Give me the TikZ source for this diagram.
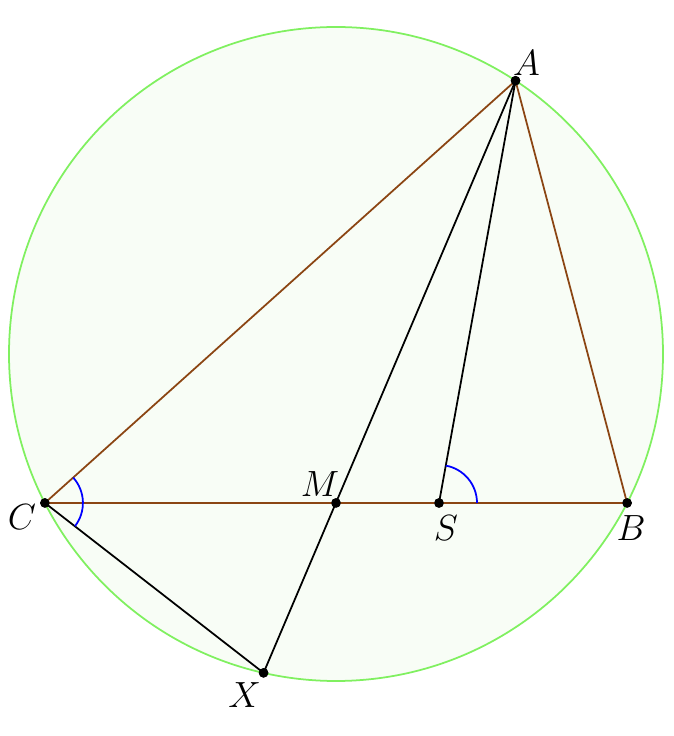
\documentclass[tikz,border=0pt]{standalone}
\usepackage{amsmath}
\usepackage{tikz}
\usetikzlibrary{calc}
\usetikzlibrary{positioning}
\definecolor{sidecol}{RGB}{139,69,19}
\definecolor{circcol}{RGB}{128,240,96}
\definecolor{discfill}{RGB}{248,253,246}
\tikzstyle{point} = [
	circle,
	fill = black,
	inner sep = 0pt,
	minimum size = 0.19cm
]
\tikzstyle{side} = [draw = sidecol, line width = 1pt]
\tikzstyle{cev} = [draw = black, line width = 1pt]
\tikzstyle{ang} = [draw = blue, line width = 1pt]
\tikzstyle{lbl} = [font = \huge, inner sep = 0pt]

\begin{document}
\begin{tikzpicture}
	\useasboundingbox (0,0) rectangle (13.48,14.72);
	\coordinate (O) at (6.72,7.64);
	\draw[circcol, fill = discfill, line width = 1pt] (O) circle (6.54);
	
	\node [point] (A) at ($(O)+(56.7:6.54)$) {};
	\node [point] (B) at ($(O)+(-27.1:6.54)$) {};
	\node [point] (C) at ($(O)+(207.1:6.54)$) {};
	\node [point] (M) at ($(B)!0.5!(C)$) {};
	\node [point] (S) at (8.78,4.66) {};
	\node [point] (X) at ($(O)+(257.2:6.54)$) {};
	
	\path[side] (A.center) -- (B.center) -- (C.center) -- cycle;
	\path[cev] (A.center) -- (X.center);
	\path[cev] (A.center) -- (S.center);
	\path[cev] (C.center) -- (X.center);
	
	% angle marks
	\draw[ang] ($(C)+(-37.7:0.76)$) arc (-37.7:41.9:0.76);
	\draw[ang] ($(S)+(0.76,0)$) arc (0:79.7:0.76);
	
	\node [point] at (A) {};
	\node [point] at (B) {};
	\node [point] at (C) {};
	\node [point] at (M) {};
	\node [point] at (S) {};
	\node [point] at (X) {};
	
	\node [lbl] (lA) at ($(A)+(0.22,0.36)$) {$A$};
	\node [lbl] (lB) at ($(B)+(0.08,-0.50)$) {$B$};
	\node [lbl] (lC) at ($(C)+(-0.46,-0.28)$) {$C$};
	\node [lbl] (lM) at ($(M)+(-0.32,0.38)$) {$M$};
	\node [lbl] (lS) at ($(S)+(0.14,-0.50)$) {$S$};
	\node [lbl] (lX) at ($(X)+(-0.38,-0.44)$) {$X$};
\end{tikzpicture}
\end{document}
